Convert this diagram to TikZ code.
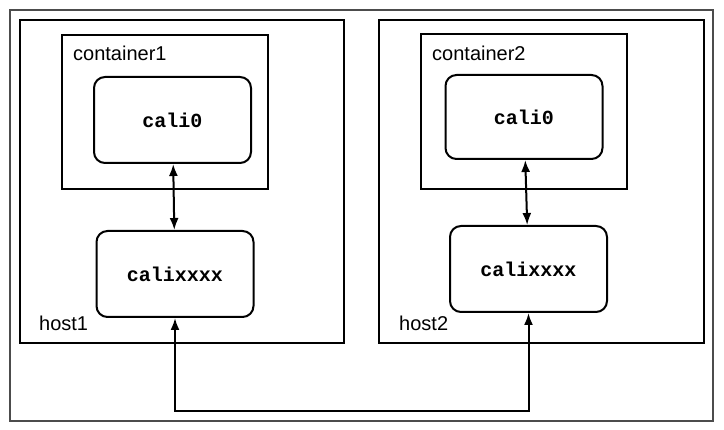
\documentclass[tikz,border=0pt]{standalone}
\usepackage{fontspec}
\setmainfont{Liberation Sans}
\setmonofont{Liberation Mono}
\usetikzlibrary{arrows.meta,positioning}

\tikzset{
frame/.style={draw, line width=2.2pt, inner sep=0pt},
iface/.style={draw, line width=2pt, rounded corners=11pt, minimum width=157pt, minimum height=86pt, font=\ttfamily\bfseries\fontsize{20}{24}\selectfont},
lbl/.style={anchor=base west, inner sep=0pt, font=\fontsize{20}{24}\selectfont},
link/.style={line width=2pt, {Latex[length=12pt,width=9pt]}-{Latex[length=12pt,width=9pt]}}
}

\begin{document}
\begin{tikzpicture}[x=1pt,y=-1pt]
\useasboundingbox (0,0) rectangle (724,430);
\node[draw=black!70, line width=1.3pt, minimum width=703pt, minimum height=411pt] (net) at (361.5,215.5) {};
\node[frame, minimum width=324pt, minimum height=323pt] (host1) at (182,181.5) {};
\node[frame, minimum width=325pt, minimum height=323pt] (host2) at (541.5,181.5) {};
\node[frame, minimum width=206pt, minimum height=154pt] (cont1) at (165,112) {};
\node[frame, minimum width=206pt, minimum height=155pt] (cont2) at (524,111.5) {};
\node[iface] (cali1) at (172.5,120) {cali0};
\node[iface, minimum height=84pt] (cali2) at (524,117) {cali0};
\node[iface] (calix1) at (175,274) {calixxxx};
\node[iface] (calix2) at (528.5,269) {calixxxx};
\node[lbl] (cont1lbl) at (73,61) {container1};
\node[lbl] (cont2lbl) at (432,61) {container2};
\node[lbl] (host1lbl) at (39,331) {host1};
\node[lbl] (host2lbl) at (399,331) {host2};
\draw[link] (cali1) -- (calix1);
\draw[link] (cali2) -- (calix2);
\draw[link] (calix1.south) -- ++(0,93) -| (calix2.south);
\end{tikzpicture}
\end{document}
